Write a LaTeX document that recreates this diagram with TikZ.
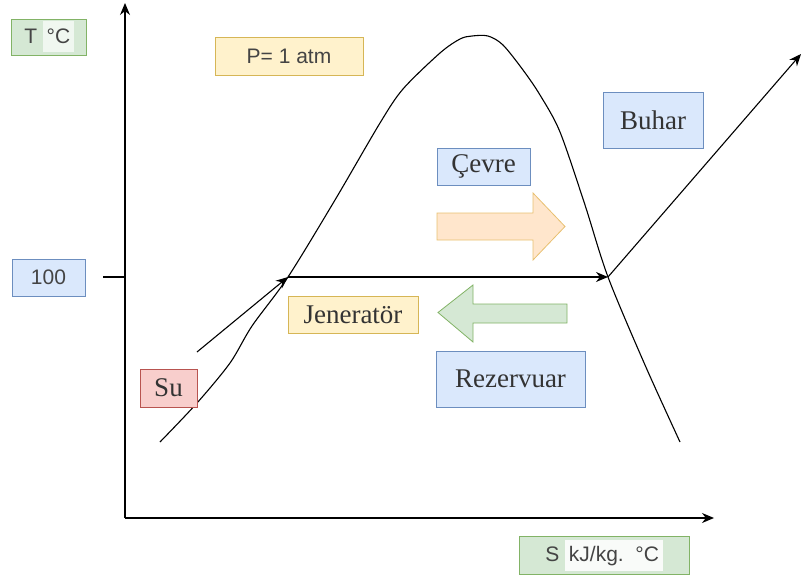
\documentclass[tikz,border=0pt]{standalone}
\usepackage{fontspec}
\setmainfont{Liberation Serif}
\setsansfont{Liberation Sans}
\usetikzlibrary{arrows.meta}
\definecolor{gfill}{HTML}{D5E8D4}\definecolor{gline}{HTML}{82B366}
\definecolor{yfill}{HTML}{FFF2CC}\definecolor{yline}{HTML}{D6B656}
\definecolor{bfill}{HTML}{DAE8FC}\definecolor{bline}{HTML}{6C8EBF}
\definecolor{rfill}{HTML}{F8CECC}\definecolor{rline}{HTML}{B85450}
\definecolor{ofill}{HTML}{FFE6CC}\definecolor{oline}{HTML}{E8C070}
\definecolor{txt}{HTML}{333333}
\definecolor{stxt}{HTML}{444444}
\begin{document}
\begin{tikzpicture}[x=1pt,y=-1pt,
  box/.style={draw=#1line, fill=#1fill, line width=0.8pt, inner sep=0pt},
  sanslbl/.style={font=\sffamily\fontsize{21}{25}\selectfont, text=stxt},
  seriflbl/.style={font=\rmfamily\fontsize{27}{31}\selectfont, text=txt},
  conn/.style={line width=1.1pt, -{Stealth[length=12pt,width=10pt]}},
  plain/.style={line width=1.1pt}]
\useasboundingbox (0,0) rectangle (801,578);
\newcommand{\hl}[2]{{\fboxsep=0pt\colorbox{#1}{\rule[-9pt]{0pt}{31pt}\,#2\,}}}
% axes
\coordinate (o) at (125,518);
\coordinate (ytop) at (125,3);
\coordinate (xend) at (714,518);
\draw[conn] (o) -- (ytop);
\draw[conn] (o) -- (xend);
\coordinate (tick) at (103,277);
\coordinate (tickend) at (125,277);
\draw[plain] (tick) -- (tickend);
% dome
\draw[line width=1.1pt] plot[smooth, tension=0.5] coordinates {(160,442) (197,403) (230,363) (252,326) (288,277) (335,200) (380,123) (403,89) (440,53) (460,39) (472,36) (488,36) (503,45) (523,70) (540,95) (560,132) (585,205) (608,277) (645,365) (680,442)};
% process arrows
\coordinate (a0) at (197,352);
\coordinate (p1) at (288,277);
\coordinate (p2) at (608,277);
\coordinate (a3) at (801,54);
\draw[conn] (a0) -- (p1);
\draw[conn] (p1) -- (p2);
\draw[conn] (p2) -- (a3);
% labels
\node[box=g, sanslbl, minimum width=75pt, minimum height=36pt] (T) at (49,37) {T\hspace{6pt}\hl{white!65!gfill}{°C}};
\node[box=g, sanslbl, minimum width=170pt, minimum height=38pt] (S) at (604,555) {S\hspace{6pt}\hl{white!85!gfill}{kJ/kg.\ \ °C}};
\node[box=y, sanslbl, minimum width=148pt, minimum height=38pt] (P) at (289,56) {P= 1 atm};
\node[box=b, sanslbl, minimum width=73pt, minimum height=37pt] (h) at (48.5,277.5) {100};
\node[box=r, seriflbl, minimum width=57pt, minimum height=38pt] (su) at (168.5,388) {Su};
\node[box=y, seriflbl, minimum width=130pt, minimum height=37pt] (jen) at (353,314.5) {Jeneratör};
\node[box=b, seriflbl, minimum width=149pt, minimum height=56pt] (rez) at (510.5,379) {Rezervuar};
\node[box=b, seriflbl, minimum width=93pt, minimum height=37pt] (cev) at (483.5,166.5) {Çevre};
\node[box=b, seriflbl, minimum width=100pt, minimum height=56pt] (buh) at (653,120) {Buhar};
% block arrows
\draw[draw=oline, fill=ofill, line width=0.8pt] (437,213) -- (533,213) -- (533,193) -- (565,226.5) -- (533,260) -- (533,240) -- (437,240) -- cycle;
\draw[draw=gline, fill=gfill, line width=0.8pt] (567,304) -- (473,304) -- (473,285) -- (438,312.5) -- (473,342) -- (473,323) -- (567,323) -- cycle;
\end{tikzpicture}
\end{document}
